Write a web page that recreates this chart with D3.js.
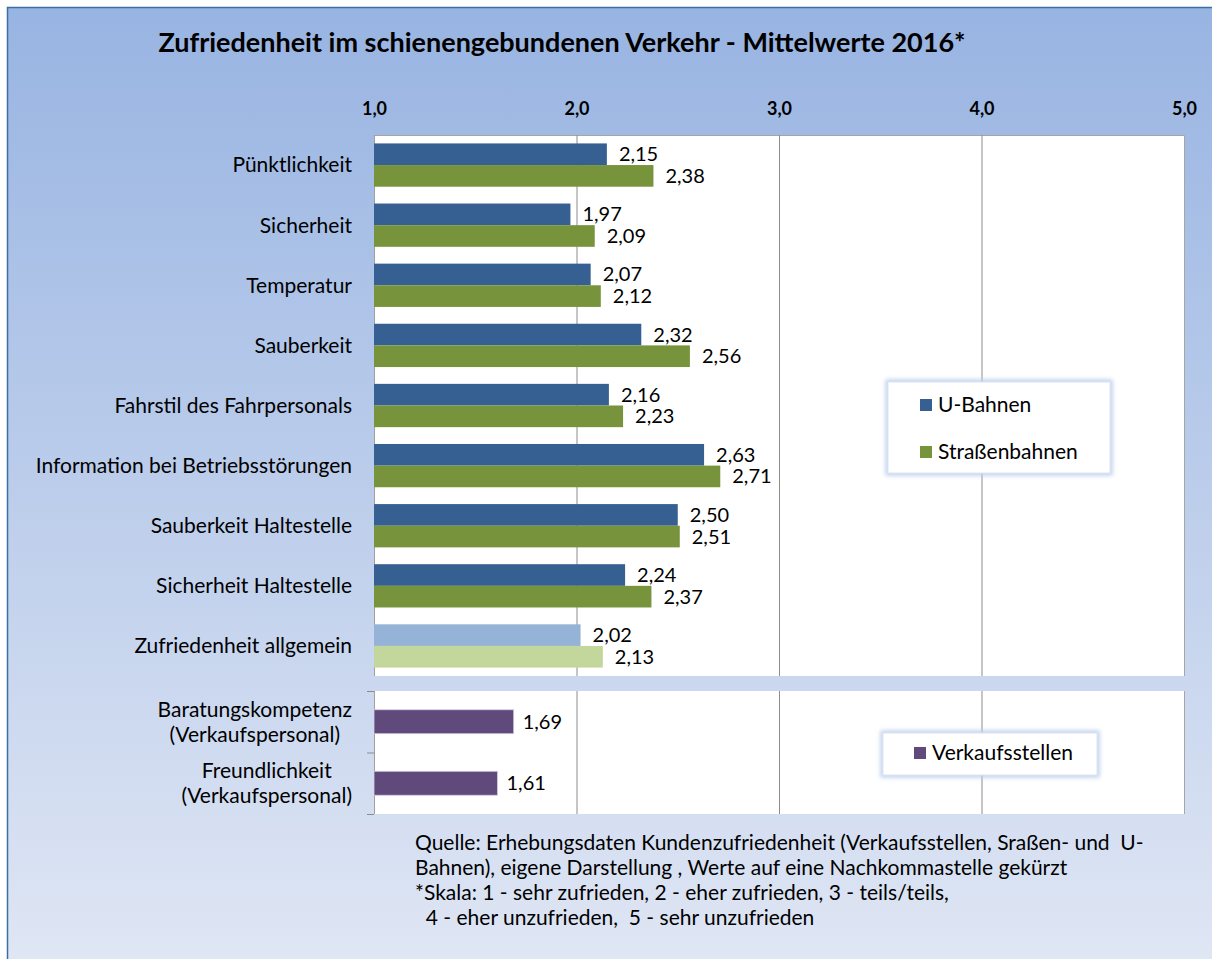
<!DOCTYPE html>
<html>
<head>
<meta charset="utf-8">
<script src="https://cdn.jsdelivr.net/npm/d3@7"></script>
<style>
  body { margin: 0; background: #fff; }
  svg text { font-family: Lato, "Open Sans", sans-serif; fill: #000; }
</style>
</head>
<body>
<div class="displayArea"></div>
<script>
// data
var categories = ["Pünktlichkeit", "Sicherheit", "Temperatur", "Sauberkeit",
    "Fahrstil des Fahrpersonals", "Information bei Betriebsstörungen",
    "Sauberkeit Haltestelle", "Sicherheit Haltestelle", "Zufriedenheit allgemein"]
var uBahnen = [2.15, 1.97, 2.07, 2.32, 2.16, 2.63, 2.50, 2.24, 2.02]
var strassenbahnen = [2.38, 2.09, 2.12, 2.56, 2.23, 2.71, 2.51, 2.37, 2.13]

var shopCategories = ["Baratungskompetenz (Verkaufspersonal)", "Freundlichkeit (Verkaufspersonal)"]
var shopLabelLines = [["Baratungskompetenz", "(Verkaufspersonal)"], ["Freundlichkeit", "(Verkaufspersonal)"]]
var verkaufsstellen = [1.69, 1.61]

var tickValues = [1, 2, 3, 4, 5]
var seriesNames = ["U-Bahnen", "Straßenbahnen"]
var shopSeriesName = "Verkaufsstellen"

var title = "Zufriedenheit im schienengebundenen Verkehr - Mittelwerte 2016*"
var footnote = ["Quelle: Erhebungsdaten Kundenzufriedenheit (Verkaufsstellen, Sraßen- und  U-",
    "Bahnen), eigene Darstellung , Werte auf eine Nachkommastelle gekürzt",
    "*Skala: 1 - sehr zufrieden, 2 - eher zufrieden, 3 - teils/teils,",
    "  4 - eher unzufrieden,  5 - sehr unzufrieden"]

var width = 1212, height = 959
var left = 374, right = 1184
var top1 = 135, bottom1 = 676, top2 = 691, bottom2 = 814

var colors = { u: "#376092", s: "#77933c", uLight: "#95b3d7", sLight: "#c3d69b", shop: "#604a7b" }

var commaFmt = function (f) { return function (d) { return d3.format(f)(d).replace(".", ",") } }

var svg = d3.select(".displayArea").append("svg")
    .attr("width", width)
    .attr("height", height)

var defs = svg.append("defs")
var grad = defs.append("linearGradient").attr("id", "bg").attr("x1", 0).attr("y1", 0).attr("x2", 0).attr("y2", 1)
grad.append("stop").attr("offset", "0%").attr("stop-color", "#98b4e2")
grad.append("stop").attr("offset", "100%").attr("stop-color", "#dfe6f4")
defs.append("filter").attr("id", "glow").attr("x", "-20%").attr("y", "-40%").attr("width", "140%").attr("height", "180%")
    .append("feGaussianBlur").attr("stdDeviation", 2)

// background + frame
svg.append("rect").attr("x", 8).attr("y", 8).attr("width", width - 8).attr("height", height - 8).attr("fill", "url(#bg)")
svg.append("path").attr("d", "M7.5," + height + "V7.5H" + width).attr("fill", "none").attr("stroke", "#3a6ea5").attr("stroke-width", 1.5)

svg.append("text")
    .attr("x", 562).attr("y", 52)
    .attr("text-anchor", "middle")
    .attr("font-size", 27).attr("font-weight", "bold")
    .text(title)

var x = d3.scaleLinear().domain([1, 5]).range([left, right])

var y1 = d3.scaleBand().domain(categories).range([top1, bottom1]).paddingInner(0.28).paddingOuter(0.14)
var sub = d3.scaleBand().domain([0, 1]).range([0, y1.bandwidth()])
var y2 = d3.scaleBand().domain(shopCategories).range([top2, bottom2]).paddingInner(0.61).paddingOuter(0.305)

// plot areas (white, grey frame on top/right only)
;[[top1, bottom1, true], [top2, bottom2, false]].forEach(function (p) {
    svg.append("rect").attr("x", left).attr("y", p[0]).attr("width", right - left).attr("height", p[1] - p[0])
        .attr("fill", "#fff")
    svg.append("path")
        .attr("d", (p[2] ? "M" + left + "," + (p[0] + 0.5) + "H" + (right + 0.5) : "M" + (right + 0.5) + "," + p[0]) + "V" + p[1])
        .attr("fill", "none").attr("stroke", "#a6a6a6")
    svg.append("line").attr("x1", left + 0.5).attr("x2", left + 0.5).attr("y1", p[0]).attr("y2", p[1]).attr("stroke", "#a0a0a0")
    svg.append("g").selectAll("line").data(tickValues.slice(1, 4)).enter().append("line")
        .attr("x1", function (d) { return x(d) + 0.5 }).attr("x2", function (d) { return x(d) + 0.5 })
        .attr("y1", p[0]).attr("y2", p[1])
        .attr("stroke", "#8c8c8c")
})

// top axis
var xAxis = d3.axisTop(x).tickValues(tickValues).tickFormat(commaFmt(".1f")).tickSize(0).tickPadding(20)
var gx = svg.append("g").attr("transform", "translate(0," + top1 + ")").call(xAxis)
gx.select(".domain").remove()
gx.selectAll("text").attr("font-size", 18).attr("font-weight", "bold").attr("font-family", "Lato")

// lower panel ticks on left axis
svg.append("g").selectAll("line").data([top2, top2 + y2.step(), bottom2]).enter().append("line")
    .attr("x1", left - 7).attr("x2", left).attr("y1", function (d) { return d + 0.5 }).attr("y2", function (d) { return d + 0.5 })
    .attr("stroke", "#8c8c8c")

// category labels upper panel
svg.append("g").selectAll("text").data(categories).enter().append("text")
    .attr("x", 352)
    .attr("y", function (d) { return y1(d) + y1.bandwidth() / 2 })
    .attr("dy", "0.35em")
    .attr("text-anchor", "end")
    .attr("font-size", 21)
    .text(function (d) { return d })

// upper bars
var groups = svg.append("g").selectAll("g").data(categories).enter().append("g")
    .attr("transform", function (d) { return "translate(0," + y1(d) + ")" })

groups.each(function (d, i) {
    var g = d3.select(this)
    var last = i === categories.length - 1
    var vals = [uBahnen[i], strassenbahnen[i]]
    var fills = last ? [colors.uLight, colors.sLight] : [colors.u, colors.s]
    vals.forEach(function (v, j) {
        g.append("rect")
            .attr("x", x(1))
            .attr("y", sub(j))
            .attr("width", x(v) - x(1))
            .attr("height", sub.bandwidth())
            .attr("fill", fills[j])
        g.append("text")
            .attr("x", x(v) + 12)
            .attr("y", sub(j) + sub.bandwidth() / 2)
            .attr("dy", "0.35em")
            .attr("font-size", 20)
            .text(commaFmt(".2f")(v))
    })
})

// lower bars
svg.append("g").selectAll("rect").data(verkaufsstellen).enter().append("rect")
    .attr("x", x(1))
    .attr("y", function (d, i) { return y2(shopCategories[i]) })
    .attr("width", function (d) { return x(d) - x(1) })
    .attr("height", y2.bandwidth())
    .attr("fill", colors.shop)
    .attr("stroke", "#d9d0e6").attr("stroke-width", 0.8)

svg.append("g").selectAll("text").data(verkaufsstellen).enter().append("text")
    .attr("x", function (d) { return x(d) + 9 })
    .attr("y", function (d, i) { return y2(shopCategories[i]) + y2.bandwidth() / 2 })
    .attr("dy", "0.35em")
    .attr("font-size", 20)
    .text(commaFmt(".2f"))

// lower category labels: lines centered within a right-aligned block
shopLabelLines.forEach(function (lines, i) {
    var cy = y2(shopCategories[i]) + y2.bandwidth() / 2
    var t = svg.append("text").attr("font-size", 21).attr("text-anchor", "middle")
    var spans = lines.map(function (l, k) {
        return t.append("tspan").attr("y", cy + (k - 0.5) * 25).attr("dy", "0.35em").text(l)
    })
    var w = d3.max(spans, function (s) { return s.node().getComputedTextLength() })
    spans.forEach(function (s) { s.attr("x", 352 - w / 2) })
})

// legends
function legend(x0, y0, w, h, items) {
    var g = svg.append("g")
    g.append("rect").attr("x", x0).attr("y", y0).attr("width", w).attr("height", h)
        .attr("fill", "none").attr("stroke", "#bcd0ec").attr("stroke-width", 5).attr("filter", "url(#glow)")
    g.append("rect").attr("x", x0).attr("y", y0).attr("width", w).attr("height", h)
        .attr("fill", "#fff").attr("stroke", "#dce6f4").attr("stroke-width", 1)
    items.forEach(function (it) {
        g.append("rect").attr("x", it.x).attr("y", it.y - 6).attr("width", 12).attr("height", 12).attr("fill", it.color)
        g.append("text").attr("x", it.x + 18).attr("y", it.y).attr("dy", "0.35em").attr("font-size", 21).text(it.name)
    })
}
legend(888, 382, 222, 91, [
    { name: seriesNames[0], color: colors.u, x: 920, y: 405 },
    { name: seriesNames[1], color: colors.s, x: 920, y: 452 }
])
legend(883, 733, 214, 42, [
    { name: shopSeriesName, color: colors.shop, x: 914, y: 753 }
])

// footnote
svg.append("g").selectAll("text").data(footnote).enter().append("text")
    .attr("x", 415)
    .attr("y", function (d, i) { return 850 + i * 25 })
    .attr("font-size", 21)
    .attr("xml:space", "preserve")
    .style("white-space", "pre")
    .text(function (d) { return d })
</script>
</body>
</html>
